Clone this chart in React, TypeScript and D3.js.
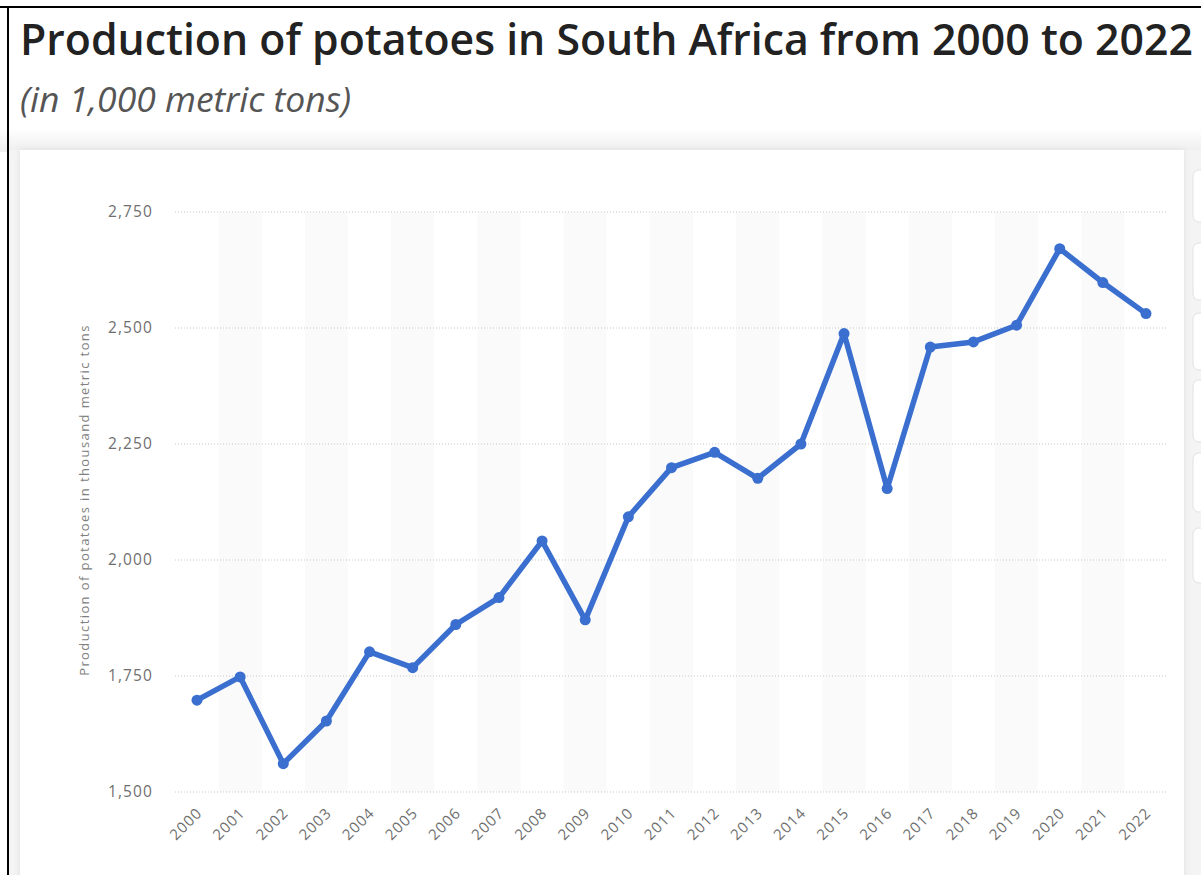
import React from "react";
import * as d3 from "d3";

const years = ["2000","2001","2002","2003","2004","2005","2006","2007","2008","2009","2010","2011","2012","2013","2014","2015","2016","2017","2018","2019","2020","2021","2022"];
const production = [1698,1748,1561,1653,1802,1768,1861,1919,2041,1871,2093,2199,2232,2176,2250,2488,2154,2459,2470,2506,2671,2598,2531];
const yTicks = [1500,1750,2000,2250,2500,2750];

const W = 1201, H = 875;
const M = { left: 175, right: 1168, top: 212, bottom: 792 };

export default function App() {
  const x = d3.scalePoint<string>().domain(years).range([197, 1146]);
  const step = x.step();
  const y = d3.scaleLinear().domain([1500, 2750]).range([M.bottom, M.top]);
  const line = d3.line<number>().x((_, i) => x(years[i])!).y(d => y(d));
  const fmt = d3.format(",");
  const font = "'Open Sans', 'Noto Sans', sans-serif";
  const boxes = [[170,222],[243,300],[313,370],[380,442],[453,512],[528,583]];
  return (
    <svg width={W} height={H} style={{ position: "absolute", left: 0, top: 0, display: "block" }} xmlns="http://www.w3.org/2000/svg">
      <defs>
        <linearGradient id="topfade" x1="0" y1="0" x2="0" y2="1">
          <stop offset="0" stopColor="#ffffff" />
          <stop offset="1" stopColor="#eeeeee" />
        </linearGradient>
        <filter id="shadow" x="-5%" y="-5%" width="110%" height="110%">
          <feDropShadow dx="0" dy="0" stdDeviation="3" floodColor="#000" floodOpacity="0.08" />
        </filter>
      </defs>
      <rect x={0} y={0} width={W} height={H} fill="#ffffff" />
      <rect x={0} y={128} width={W} height={24} fill="url(#topfade)" />
      <rect x={9} y={150} width={W} height={H} fill="#f4f4f4" />
      <rect x={20} y={150} width={1164} height={760} fill="#ffffff" filter="url(#shadow)" />
      {boxes.map(([a, b], i) => (
        <rect key={i} x={1193} y={a} width={40} height={b - a} rx={6} fill="#ffffff" stroke="#e2e2e2" strokeWidth={1} />
      ))}
      <line x1={0} x2={W} y1={7} y2={7} stroke="#000" strokeWidth={2} />
      <line x1={8} x2={8} y1={6} y2={H} stroke="#000" strokeWidth={2} />

      <text x={20} y={55} fontFamily={font} fontWeight={600} fontSize={42.8} fill="#222222">Production of potatoes in South Africa from 2000 to 2022</text>
      <text x={20} y={112} fontFamily={font} fontStyle="italic" fontSize={35.5} fill="#555555">(in 1,000 metric tons)</text>

      {years.map((yr, i) => i % 2 === 1 ? (
        <rect key={yr} x={x(yr)! - step / 2} y={M.top} width={step} height={M.bottom - M.top} fill="#fafafa" />
      ) : null)}

      {yTicks.map(t => (
        <g key={t}>
          <line x1={M.left} x2={M.right} y1={y(t)} y2={y(t)} stroke="#c8c8c8" strokeWidth={1} strokeDasharray="1,2" />
          <text x={153} y={y(t)} dy="0.35em" textAnchor="end" fontFamily={font} fontSize={15.5} letterSpacing={1.1} fill="#6f6f6f">{fmt(t)}</text>
        </g>
      ))}

      <text transform={`translate(89, 500) rotate(-90)`} textAnchor="middle" fontFamily={font} fontSize={13} letterSpacing={1.4} fill="#808080">Production of potatoes in thousand metric tons</text>

      {years.map(yr => (
        <text key={yr} transform={`translate(${x(yr)! + 6}, 814) rotate(-45)`} textAnchor="end" fontFamily={font} fontSize={15} letterSpacing={1} fill="#6f6f6f">{yr}</text>
      ))}

      <path d={line(production)!} fill="none" stroke="#3a6fcf" strokeWidth={5.5} strokeLinejoin="round" strokeLinecap="round" />
      {production.map((v, i) => (
        <circle key={i} cx={x(years[i])!} cy={y(v)} r={5.5} fill="#3a6fcf" />
      ))}
    </svg>
  );
}
